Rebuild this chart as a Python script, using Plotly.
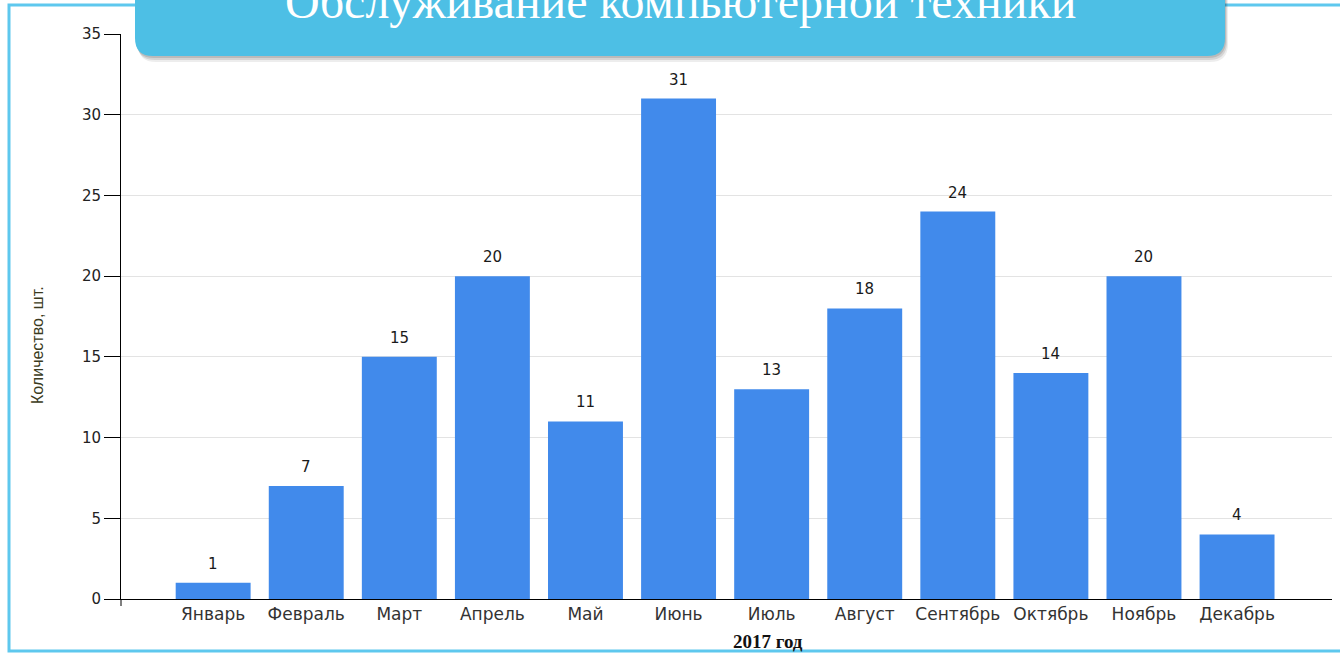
import plotly.graph_objects as go

months = ["Январь", "Февраль", "Март", "Апрель", "Май", "Июнь",
          "Июль", "Август", "Сентябрь", "Октябрь", "Ноябрь", "Декабрь"]
counts = [1, 7, 15, 20, 11, 31, 13, 18, 24, 14, 20, 4]
y_ticks = [0, 5, 10, 15, 20, 25, 30, 35]

W, H = 1340, 654
L, R, T, B = 121, 8, 34, 55
PW, PH = W - L - R, H - T - B


def px(X):
    return (X - L) / PW


def py(Y):
    return (H - B - Y) / PH


fig = go.Figure()
fig.add_trace(go.Bar(
    x=list(range(len(months))), y=counts,
    marker=dict(color="#418AEB", line=dict(width=0)),
    hoverinfo="skip",
))

annotations = []
for i, v in enumerate(counts):
    annotations.append(dict(
        x=i, y=v, xref="x", yref="y", text=str(v), showarrow=False,
        yanchor="bottom", yshift=8,
        font=dict(family="DejaVu Sans", size=15, color="#1a1a1a"),
    ))

# banner title
annotations.append(dict(
    x=px(680), y=py(30), xref="paper", yref="paper",
    text="Обслуживание компьютерной техники", showarrow=False,
    xanchor="center", yanchor="bottom",
    font=dict(family="Liberation Serif", size=48, color="white"),
))
# x axis title
annotations.append(dict(
    x=px(768), y=py(641), xref="paper", yref="paper",
    text="<b>2017 год</b>", showarrow=False,
    xanchor="center", yanchor="middle",
    font=dict(family="Liberation Serif", size=19, color="#111111"),
))
# y axis title
annotations.append(dict(
    x=px(38), y=py(345), xref="paper", yref="paper",
    text="Количество, шт.", showarrow=False, textangle=-90,
    xanchor="center", yanchor="middle",
    font=dict(family="Liberation Sans Narrow, Liberation Sans", size=16, color="#3a3a20"),
))


def rounded_path(x0, x1, ytop, ybot, r, dx=0, dy=0):
    x0 += dx; x1 += dx; ytop += dy; ybot += dy
    pts = [
        ("M", [(x0, ytop)]),
        ("L", [(x1, ytop)]),
        ("L", [(x1, ybot - r)]),
        ("Q", [(x1, ybot), (x1 - r, ybot)]),
        ("L", [(x0 + r, ybot)]),
        ("Q", [(x0, ybot), (x0, ybot - r)]),
    ]
    s = ""
    for cmd, ps in pts:
        s += cmd + " " + " ".join(f"{px(a):.5f},{py(b):.5f}" for a, b in ps) + " "
    return s + "Z"


shapes = [
    # outer frame
    dict(type="rect", xref="paper", yref="paper",
         x0=px(9), x1=px(1360), y0=py(5), y1=py(651),
         line=dict(color="#5EC8EE", width=3), fillcolor="rgba(0,0,0,0)", layer="below"),
    # y axis extension below zero
    dict(type="line", xref="paper", yref="paper",
         x0=px(121), x1=px(121), y0=py(599), y1=py(606),
         line=dict(color="black", width=1)),
    # banner shadows
    dict(type="path", xref="paper", yref="paper",
         path=rounded_path(135, 1225, -30, 56, 18, dx=3, dy=6),
         fillcolor="rgba(0,0,0,0.07)", line=dict(width=0), layer="above"),
    dict(type="path", xref="paper", yref="paper",
         path=rounded_path(135, 1225, -30, 56, 18, dx=2, dy=4),
         fillcolor="rgba(0,0,0,0.10)", line=dict(width=0), layer="above"),
    dict(type="path", xref="paper", yref="paper",
         path=rounded_path(135, 1225, -30, 56, 18, dx=1, dy=2),
         fillcolor="rgba(0,0,0,0.12)", line=dict(width=0), layer="above"),
    # banner
    dict(type="path", xref="paper", yref="paper",
         path=rounded_path(135, 1225, -30, 56, 18),
         fillcolor="#4DBFE5", line=dict(width=0), layer="above"),
]

fig.update_layout(
    width=W, height=H,
    margin=dict(l=L, r=R, t=T, b=B, pad=0),
    paper_bgcolor="white", plot_bgcolor="white",
    font=dict(family="DejaVu Sans", size=15, color="#222222"),
    bargap=0.195,
    showlegend=False,
    xaxis=dict(
        range=[-0.99, 12.02],
        tickmode="array", tickvals=list(range(len(months))), ticktext=months,
        tickfont=dict(family="DejaVu Sans", size=17, color="#333333"),
        showline=True, linecolor="black", linewidth=1,
        showgrid=False, ticks="", zeroline=False, fixedrange=True,
    ),
    yaxis=dict(
        range=[0, 35], tickmode="array", tickvals=y_ticks,
        tickfont=dict(family="DejaVu Sans", size=15, color="#222222"),
        showline=True, linecolor="black", linewidth=1,
        ticks="outside", ticklen=16, tickcolor="black", tickwidth=1,
        showgrid=True, gridcolor="#E3E3E3", gridwidth=1,
        zeroline=False, fixedrange=True,
    ),
    annotations=annotations,
    shapes=shapes,
)

fig.write_html(
    "out.html",
    config={"displayModeBar": False},
    post_script="document.body.style.margin='0';document.body.style.overflow='hidden';",
)
